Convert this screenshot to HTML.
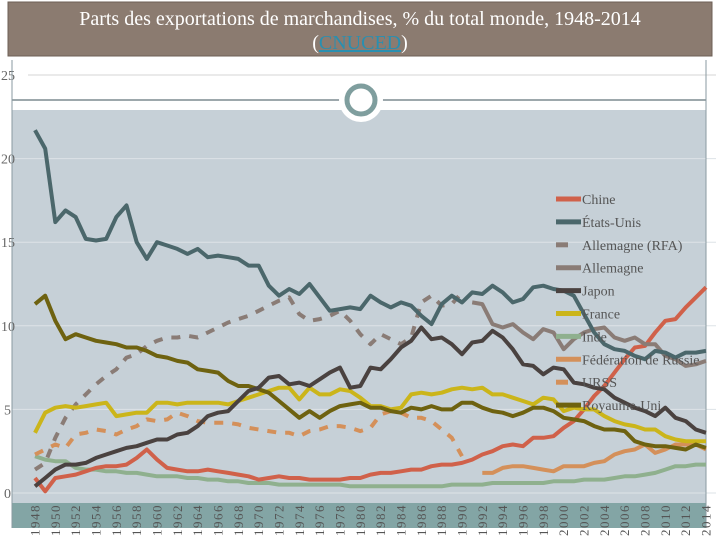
<!DOCTYPE html>
<html><head><meta charset="utf-8"><style>
html,body{margin:0;padding:0;background:#fff;width:720px;height:540px;overflow:hidden}
svg text{font-family:"Liberation Serif",serif}
</style></head><body>
<svg id="chart" width="720" height="540" viewBox="0 0 720 540" xmlns="http://www.w3.org/2000/svg">
<rect x="8" y="2" width="704" height="54" fill="#8b7b70" stroke="#6d5f56"/>
<text x="360" y="25" text-anchor="middle" font-size="20" fill="#fff">Parts des exportations de marchandises, % du total monde, 1948-2014</text>
<text x="360" y="49" text-anchor="middle" font-size="20" fill="#fff">(<tspan fill="#2a8fb0" text-decoration="underline">CNUCED</tspan>)</text>
<rect x="12" y="110" width="694" height="393" fill="#c6d0d7"/>
<line x1="12" y1="100" x2="706" y2="100" stroke="#7d8b90" stroke-width="1.5"/>
<circle cx="361" cy="100" r="22" fill="#fff"/>
<circle cx="361" cy="100" r="14" fill="#fff" stroke="#7f9e9e" stroke-width="5"/>
<g id="grid"></g>
<rect x="12" y="503" width="694" height="25" fill="#83a5a5"/>
<line x1="12" y1="60" x2="12" y2="528" stroke="#8a9aa0"/>
<line x1="706" y1="60" x2="706" y2="528" stroke="#8a9aa0"/>
<g id="series"></g>
<g id="xlabels"></g>
<g id="legend"></g>
</svg>
<script>
const years=[];for(let y=1948;y<=2014;y++)years.push(y);
const yTicks=[0,5,10,15,20,25];
const chine=[0.9,0.1,0.9,1.0,1.1,1.3,1.5,1.6,1.6,1.7,2.1,2.6,2.0,1.5,1.4,1.3,1.3,1.4,1.3,1.2,1.1,1.0,0.8,0.9,1.0,0.9,0.9,0.8,0.8,0.8,0.8,0.9,0.9,1.1,1.2,1.2,1.3,1.4,1.4,1.6,1.7,1.7,1.8,2.0,2.3,2.5,2.8,2.9,2.8,3.3,3.3,3.4,3.9,4.3,5.0,5.8,6.4,7.2,8.0,8.7,8.8,9.6,10.3,10.4,11.1,11.7,12.3];
const etatsUnis=[21.7,20.6,16.2,16.9,16.5,15.2,15.1,15.2,16.5,17.2,15.0,14.0,15.0,14.8,14.6,14.3,14.6,14.1,14.2,14.1,14.0,13.6,13.6,12.4,11.8,12.2,11.9,12.5,11.7,10.9,11.0,11.1,11.0,11.8,11.4,11.1,11.4,11.2,10.6,10.1,11.3,11.8,11.4,12.0,11.9,12.4,12.0,11.4,11.6,12.3,12.4,12.2,12.1,11.8,10.7,9.6,8.9,8.6,8.5,8.2,8.0,8.5,8.4,8.1,8.4,8.4,8.5];
const rfaYears=years.slice(0,43);
const rfa=[1.4,1.8,3.3,4.5,5.3,5.9,6.5,7.0,7.4,8.1,8.3,8.8,9.1,9.3,9.3,9.4,9.3,9.6,9.9,10.2,10.4,10.6,10.9,11.2,11.5,11.7,10.7,10.3,10.4,10.6,10.9,10.3,9.5,8.9,9.5,9.2,8.9,9.3,11.4,11.8,11.2,11.3,12.0];
const allYears=years.slice(43);
const allemagne=[11.4,11.3,10.1,9.9,10.1,9.6,9.2,9.8,9.6,8.6,9.2,9.6,9.8,9.9,9.3,9.1,9.3,8.9,8.9,8.2,8.0,7.6,7.7,7.9];
const japon=[0.4,0.9,1.4,1.7,1.7,1.8,2.1,2.3,2.5,2.7,2.8,3.0,3.2,3.2,3.5,3.6,4.0,4.6,4.8,4.9,5.5,6.1,6.3,6.9,7.0,6.5,6.6,6.4,6.8,7.2,7.5,6.3,6.4,7.5,7.4,8.0,8.7,9.1,9.9,9.2,9.3,8.9,8.3,9.0,9.1,9.7,9.3,8.6,7.7,7.6,7.1,7.5,7.4,6.6,6.5,6.3,6.2,5.7,5.4,5.1,4.9,4.6,5.1,4.5,4.3,3.8,3.6];
const france=[3.6,4.8,5.1,5.2,5.1,5.2,5.3,5.4,4.6,4.7,4.8,4.8,5.4,5.4,5.3,5.4,5.4,5.4,5.4,5.3,5.5,5.7,5.9,6.1,6.3,6.3,5.6,6.3,5.9,5.9,6.2,6.1,5.7,5.2,5.2,5.0,5.1,5.9,6.0,5.9,6.0,6.2,6.3,6.2,6.3,5.9,5.9,5.7,5.5,5.3,5.7,5.6,4.9,5.1,5.0,5.0,4.6,4.3,4.1,4.0,3.8,3.8,3.4,3.2,3.1,3.1,3.1];
const inde=[2.2,2.0,1.9,1.9,1.5,1.4,1.4,1.3,1.3,1.2,1.2,1.1,1.0,1.0,1.0,0.9,0.9,0.8,0.8,0.7,0.7,0.6,0.6,0.6,0.5,0.5,0.5,0.5,0.5,0.5,0.5,0.4,0.4,0.4,0.4,0.4,0.4,0.4,0.4,0.4,0.4,0.5,0.5,0.5,0.5,0.6,0.6,0.6,0.6,0.6,0.6,0.7,0.7,0.7,0.8,0.8,0.8,0.9,1.0,1.0,1.1,1.2,1.4,1.6,1.6,1.7,1.7];
const russieYears=years.slice(44);
const russie=[1.2,1.2,1.5,1.6,1.6,1.5,1.4,1.3,1.6,1.6,1.6,1.8,1.9,2.3,2.5,2.6,2.9,2.4,2.6,2.9,2.9,2.9,2.6];
const urssYears=years.slice(0,43);
const urss=[2.3,2.6,2.9,2.7,3.5,3.6,3.8,3.7,3.5,3.8,4.0,4.4,4.3,4.4,4.8,4.6,4.3,4.2,4.2,4.2,4.1,3.9,3.8,3.7,3.6,3.6,3.4,3.7,3.8,4.0,4.0,3.9,3.7,3.9,4.7,4.9,4.8,4.5,4.5,4.3,3.8,3.3,2.2];
const royaumeUni=[11.3,11.8,10.3,9.2,9.5,9.3,9.1,9.0,8.9,8.7,8.7,8.5,8.2,8.1,7.9,7.8,7.4,7.3,7.2,6.7,6.4,6.4,6.2,6.0,5.5,5.0,4.5,4.9,4.5,4.9,5.2,5.3,5.4,5.1,5.1,4.9,4.8,5.1,5.0,5.2,5.0,5.0,5.4,5.4,5.1,4.9,4.8,4.6,4.8,5.1,5.1,4.9,4.5,4.4,4.3,4.0,3.8,3.8,3.7,3.1,2.9,2.8,2.8,2.7,2.6,2.9,2.7];
const legendLabels=["Chine","États-Unis","Allemagne (RFA)","Allemagne","Japon","France","Inde","Fédération de Russie","URSS","Royaume-Uni"];

const NS="http://www.w3.org/2000/svg";
const xs=yr=>35+(yr-1948)*(706-35)/66;
const ys=v=>493-v*(493-75)/25;
function mk(tag,attrs,parent){const e=document.createElementNS(NS,tag);for(const k in attrs)e.setAttribute(k,attrs[k]);parent.appendChild(e);return e;}
const grid=document.getElementById('grid');
yTicks.forEach(t=>{
  const l=mk('line',{x1:t===25?28:12,x2:716,y1:ys(t),y2:ys(t),stroke:t===25?'#d6d6d6':'#dde3e7','stroke-width':1},grid);
  
  
  const tx=mk('text',{x:t>=10?1:4,y:ys(t)+5,'font-size':14,fill:'#666'},grid);
  tx.textContent=t;
  
  
});
const sg=document.getElementById('series');
const defs=[
 {n:'inde',yrs:years,v:inde,c:'#8fb08e',d:null},
 {n:'russie',yrs:russieYears,v:russie,c:'#d4905a',d:null},
 {n:'urss',yrs:urssYears,v:urss,c:'#d4905a',d:'9,9'},
 {n:'chine',yrs:years,v:chine,c:'#d0614a',d:null},
 {n:'rfa',yrs:rfaYears,v:rfa,c:'#8a7c76',d:'9,9'},
 {n:'allemagne',yrs:allYears,v:allemagne,c:'#8a7c76',d:null},
 {n:'france',yrs:years,v:france,c:'#cbb51a',d:null},
 {n:'royaume-uni',yrs:years,v:royaumeUni,c:'#6e6210',d:null},
 {n:'japon',yrs:years,v:japon,c:'#4a4240',d:null},
 {n:'etats-unis',yrs:years,v:etatsUnis,c:'#4b676b',d:null}
];
defs.forEach(s=>{
  const pts=s.v.map((v,i)=>xs(s.yrs[i]).toFixed(1)+','+ys(v).toFixed(1)).join(' ');
  const a={points:pts,fill:'none',stroke:s.c,'stroke-width':4,'stroke-linejoin':'round'};
  if(s.d)a['stroke-dasharray']=s.d;
  const p=mk('polyline',a,sg);
  
  
});
const xl=document.getElementById('xlabels');
years.filter(y=>y%2===0).forEach(y=>{
  const t=mk('text',{x:0,y:0,'font-size':13,'letter-spacing':1.5,fill:'#555',transform:`translate(${xs(y)+4.5},536) rotate(-90)`},xl);
  t.textContent=y;
  
  
});
const lg=document.getElementById('legend');
const lc=['#d0614a','#4b676b','#8a7c76','#8a7c76','#4a4240','#cbb51a','#8fb08e','#d4905a','#d4905a','#6e6210'];
const ld=[0,0,1,0,0,0,0,0,1,0];
legendLabels.forEach((lab,i)=>{
  const yy=199+i*22.9;
  const g=mk('g',{},lg);
  
  
  mk('line',ld[i]?{x1:556,x2:568,y1:yy,y2:yy,stroke:lc[i],'stroke-width':5}:{x1:556,x2:581,y1:yy,y2:yy,stroke:lc[i],'stroke-width':5},g);
  const t=mk('text',{x:582,y:yy+5,'font-size':14,fill:'#555'},g);
  t.textContent=lab;
});
</script>
</body></html>
